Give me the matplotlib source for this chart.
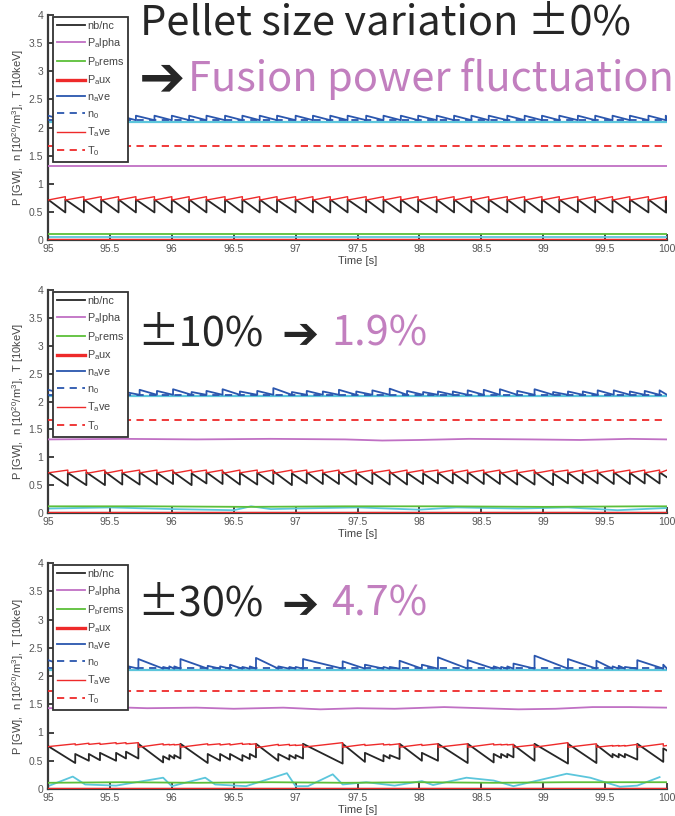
import matplotlib.pyplot as plt
import numpy as np

plt.rcParams['font.family'] = ['Liberation Sans', 'DejaVu Sans']
plt.rcParams['mathtext.default'] = 'regular'

# ---- case 1: pellet size variation +-0 % ----
t1 = [95.00, 95.14, 95.29, 95.43, 95.57, 95.71, 95.86, 96.00, 96.14, 96.28,
      96.43, 96.57, 96.71, 96.85, 97.00, 97.14, 97.28, 97.42, 97.57, 97.71,
      97.85, 97.99, 98.14, 98.28, 98.42, 98.56, 98.71, 98.85, 98.99, 99.13,
      99.28, 99.42, 99.56, 99.70, 99.85, 99.99]
nb1_hi, nb1_lo = 0.72, 0.49
te1_lo, te1_hi = 0.71, 0.77
ne1_hi, ne1_lo = 2.21, 2.13
palpha1 = ([95.0, 100.0], [1.31, 1.31])
pbrems1 = ([95.0, 100.0], [0.10, 0.10])
cyan_lo1 = ([95.0, 100.0], [0.05, 0.05])
n0_1, t0_1 = 2.13, 1.67

# ---- case 2: +-10 % ----
t2 = [95.00, 95.16, 95.31, 95.46, 95.60, 95.74, 95.88, 96.01, 96.16, 96.28,
      96.41, 96.55, 96.69, 96.82, 96.97, 97.09, 97.22, 97.35, 97.49, 97.62,
      97.76, 97.90, 98.03, 98.15, 98.27, 98.39, 98.52, 98.65, 98.79, 98.93,
      99.08, 99.20, 99.32, 99.44, 99.57, 99.70, 99.82, 99.94]
nb2_hi = [0.73, 0.72, 0.73, 0.74, 0.72, 0.73, 0.72, 0.74, 0.71, 0.73,
          0.74, 0.72, 0.72, 0.75, 0.71, 0.73, 0.72, 0.74, 0.72, 0.73,
          0.74, 0.72, 0.71, 0.72, 0.72, 0.73, 0.73, 0.74, 0.72, 0.74,
          0.71, 0.72, 0.72, 0.73, 0.73, 0.72, 0.72, 0.73]
nb2_lo = [0.49, 0.50, 0.50, 0.51, 0.51, 0.51, 0.52, 0.50, 0.53, 0.52,
          0.51, 0.51, 0.52, 0.50, 0.53, 0.52, 0.52, 0.51, 0.52, 0.51,
          0.51, 0.52, 0.53, 0.53, 0.53, 0.52, 0.52, 0.51, 0.51, 0.50,
          0.53, 0.53, 0.53, 0.52, 0.52, 0.53, 0.53, 0.64]
te2_lo = [0.72, 0.72, 0.71, 0.71, 0.72, 0.72, 0.72, 0.71, 0.73, 0.72,
          0.71, 0.72, 0.72, 0.71, 0.73, 0.72, 0.72, 0.71, 0.72, 0.72,
          0.71, 0.72, 0.73, 0.72, 0.72, 0.72, 0.72, 0.71, 0.72, 0.71,
          0.73, 0.72, 0.72, 0.72, 0.72, 0.72, 0.72, 0.72]
te2_hi = 0.77
ne2_hi = [2.21, 2.18, 2.19, 2.20, 2.18, 2.21, 2.19, 2.22, 2.17, 2.19,
          2.22, 2.18, 2.19, 2.24, 2.17, 2.19, 2.18, 2.21, 2.18, 2.20,
          2.23, 2.19, 2.17, 2.18, 2.18, 2.20, 2.21, 2.22, 2.19, 2.22,
          2.17, 2.18, 2.18, 2.20, 2.20, 2.18, 2.19, 2.20]
ne2_lo = 2.12
palpha2 = ([95.0, 95.6, 96.2, 96.8, 97.4, 97.7, 98.0, 98.4, 98.9, 99.3, 99.7, 100.0],
           [1.32, 1.33, 1.32, 1.33, 1.32, 1.30, 1.31, 1.33, 1.32, 1.31, 1.33, 1.32])
pbrems2 = ([95.0, 95.8, 96.6, 97.4, 98.2, 99.0, 99.8, 100.0],
           [0.12, 0.12, 0.11, 0.12, 0.12, 0.11, 0.12, 0.12])
cyan_lo2 = ([95.0, 95.5, 96.0, 96.5, 96.64, 96.8, 97.0, 97.5, 98.0, 98.3, 98.8, 99.2, 99.6, 100.0],
            [0.08, 0.10, 0.07, 0.05, 0.12, 0.07, 0.08, 0.10, 0.06, 0.10, 0.08, 0.10, 0.05, 0.09])
n0_2, t0_2 = 2.12, 1.67

# ---- case 3: +-30 % ----
t3 = [95.00, 95.22, 95.33, 95.42, 95.55, 95.63, 95.73, 95.93, 95.98, 96.02,
      96.07, 96.29, 96.39, 96.47, 96.57, 96.63, 96.68, 96.86, 96.95, 97.00,
      97.06, 97.38, 97.56, 97.71, 97.76, 97.84, 98.02, 98.15, 98.39, 98.60,
      98.66, 98.71, 98.76, 98.93, 99.20, 99.43, 99.56, 99.61, 99.66, 99.76,
      99.97]
nb3_hi = [0.76, 0.62, 0.62, 0.64, 0.64, 0.66, 0.80, 0.58, 0.60, 0.60,
          0.80, 0.62, 0.62, 0.62, 0.60, 0.62, 0.80, 0.62, 0.60, 0.60,
          0.80, 0.80, 0.64, 0.60, 0.60, 0.80, 0.64, 0.80, 0.80, 0.62,
          0.62, 0.62, 0.78, 0.80, 0.80, 0.78, 0.62, 0.62, 0.62, 0.80,
          0.72]
nb3_lo = [0.46, 0.50, 0.51, 0.50, 0.54, 0.54, 0.47, 0.52, 0.54, 0.54,
          0.46, 0.50, 0.52, 0.50, 0.53, 0.56, 0.50, 0.52, 0.54, 0.54,
          0.45, 0.48, 0.49, 0.54, 0.53, 0.50, 0.50, 0.46, 0.47, 0.55,
          0.56, 0.56, 0.50, 0.45, 0.46, 0.56, 0.56, 0.56, 0.52, 0.48,
          0.68]
te3_lo = [0.75, 0.78, 0.79, 0.79, 0.80, 0.80, 0.74, 0.78, 0.78, 0.78,
          0.74, 0.78, 0.78, 0.78, 0.79, 0.79, 0.73, 0.77, 0.77, 0.77,
          0.74, 0.74, 0.77, 0.78, 0.78, 0.74, 0.77, 0.74, 0.74, 0.78,
          0.78, 0.78, 0.74, 0.74, 0.74, 0.74, 0.76, 0.76, 0.76, 0.74,
          0.76]
te3_hi = [0.80, 0.81, 0.81, 0.82, 0.82, 0.82, 0.80, 0.79, 0.79, 0.79,
          0.80, 0.80, 0.80, 0.81, 0.80, 0.80, 0.79, 0.79, 0.78, 0.78,
          0.82, 0.79, 0.80, 0.79, 0.80, 0.79, 0.80, 0.80, 0.80, 0.79,
          0.79, 0.79, 0.78, 0.82, 0.80, 0.77, 0.77, 0.77, 0.79, 0.80,
          0.77]
ne3_hi = [2.28, 2.17, 2.16, 2.18, 2.17, 2.18, 2.30, 2.16, 2.17, 2.17,
          2.30, 2.18, 2.17, 2.20, 2.16, 2.17, 2.32, 2.17, 2.16, 2.16,
          2.30, 2.26, 2.20, 2.16, 2.16, 2.27, 2.20, 2.33, 2.28, 2.17,
          2.16, 2.17, 2.22, 2.36, 2.30, 2.27, 2.17, 2.18, 2.16, 2.28,
          2.20]
ne3_lo = 2.13
palpha3 = ([95.0, 95.5, 95.8, 96.2, 96.5, 96.9, 97.2, 97.5, 97.8, 98.2, 98.5, 98.8, 99.1, 99.4, 99.7, 100.0],
           [1.43, 1.45, 1.43, 1.44, 1.42, 1.44, 1.41, 1.43, 1.42, 1.45, 1.43, 1.41, 1.42, 1.45, 1.45, 1.44])
pbrems3 = ([95.0, 95.6, 96.2, 96.8, 97.4, 98.0, 98.6, 99.2, 99.8, 100.0],
           [0.11, 0.12, 0.11, 0.12, 0.11, 0.12, 0.11, 0.12, 0.12, 0.12])
cyan_lo3 = ([95.0, 95.2, 95.3, 95.55, 95.93, 96.0, 96.27, 96.35, 96.6, 96.93, 97.0, 97.1,
             97.3, 97.38, 97.57, 97.8, 98.02, 98.11, 98.38, 98.6, 98.76, 99.19, 99.38,
             99.62, 99.76, 99.94],
            [0.05, 0.22, 0.08, 0.06, 0.20, 0.05, 0.20, 0.08, 0.05, 0.28, 0.05, 0.05,
             0.26, 0.08, 0.12, 0.06, 0.14, 0.07, 0.20, 0.15, 0.05, 0.27, 0.20,
             0.04, 0.06, 0.21])
n0_3, t0_3 = 2.14, 1.73

cyan_hi = 2.10

cases = [
    dict(t=t1, nb_hi=nb1_hi, nb_lo=nb1_lo, te_lo=te1_lo, te_hi=te1_hi, ne_hi=ne1_hi, ne_lo=ne1_lo,
         palpha=palpha1, pbrems=pbrems1, cyan=cyan_lo1, n0=n0_1, t0=t0_1),
    dict(t=t2, nb_hi=nb2_hi, nb_lo=nb2_lo, te_lo=te2_lo, te_hi=te2_hi, ne_hi=ne2_hi, ne_lo=ne2_lo,
         palpha=palpha2, pbrems=pbrems2, cyan=cyan_lo2, n0=n0_2, t0=t0_2),
    dict(t=t3, nb_hi=nb3_hi, nb_lo=nb3_lo, te_lo=te3_lo, te_hi=te3_hi, ne_hi=ne3_hi, ne_lo=ne3_lo,
         palpha=palpha3, pbrems=pbrems3, cyan=cyan_lo3, n0=n0_3, t0=t0_3),
]


def sawtooth(t_pel, after, before, t_end=100.0):
    # value right after each pellet, then straight to the value just before the next one
    n = len(t_pel)
    after = np.broadcast_to(after, n)
    before = np.broadcast_to(before, n)
    edges = list(t_pel) + [t_end]
    xs, ys = [], []
    for i in range(n):
        xs += [edges[i], edges[i + 1]]
        ys += [after[i], before[i]]
    return xs, ys


BLACK = '#262626'
PURPLE = '#c070c4'
GREEN = '#5cbf38'
RED = '#ee2a2a'
BLUE = '#2a56ae'
CYAN = '#5cc6dc'
PINK = '#c27fbf'

fig = plt.figure(figsize=(6.75, 8.16), dpi=100)
W, H = 675.0, 816.0
panels = [(15, 240), (290, 513), (563, 789)]  # top / bottom of each axes in pixels

for k, (c, (ytop, ybot)) in enumerate(zip(cases, panels)):
    ax = fig.add_axes([48 / W, 1 - ybot / H, 619 / W, (ybot - ytop) / H])
    xlim = (95, 100)

    ax.plot(xlim, [cyan_hi, cyan_hi], color=CYAN, lw=1.6, zorder=2)
    ax.plot(*c['cyan'], color=CYAN, lw=1.3, zorder=2)

    x, y = sawtooth(c['t'], c['nb_hi'], c['nb_lo'])
    ax.plot(x, y, color=BLACK, lw=1.3, label='nb/nc', zorder=4)
    ax.plot(*c['palpha'], color=PURPLE, lw=1.3, label='P$_a$lpha', zorder=3)
    ax.plot(*c['pbrems'], color=GREEN, lw=1.3, label='P$_b$rems', zorder=3)
    ax.plot(xlim, [0, 0], color=RED, lw=2.4, label='P$_a$ux', zorder=3)
    x, y = sawtooth(c['t'], c['ne_hi'], c['ne_lo'])
    ax.plot(x, y, color=BLUE, lw=1.3, label='n$_a$ve', zorder=4)
    ax.plot(xlim, [c['n0'], c['n0']], color=BLUE, lw=1.3, ls=(0, (4, 3)), label='n$_0$', zorder=3)
    x, y = sawtooth(c['t'], c['te_lo'], c['te_hi'])
    ax.plot(x, y, color=RED, lw=1.0, label='T$_a$ve', zorder=4)
    ax.plot(xlim, [c['t0'], c['t0']], color=RED, lw=1.3, ls=(0, (4, 3)), label='T$_0$', zorder=3)

    ax.set_xlim(*xlim)
    ax.set_ylim(0, 4)
    ax.set_xticks(np.arange(95, 100.01, 0.5))
    ax.set_xticklabels(['95', '95.5', '96', '96.5', '97', '97.5', '98', '98.5', '99', '99.5', '100'])
    ax.set_yticks(np.arange(0, 4.01, 0.5))
    ax.set_yticklabels(['0', '0.5', '1', '1.5', '2', '2.5', '3', '3.5', '4'])
    ax.tick_params(direction='in', length=4, width=1.3, colors='#333333',
                   labelsize=7.5, labelcolor='#555555')
    ax.tick_params(axis='x', pad=3)
    ax.tick_params(axis='y', pad=3.5)
    for s in ('top', 'right'):
        ax.spines[s].set_visible(False)
    for s in ('left', 'bottom'):
        ax.spines[s].set_color('#3a3a3a')
        ax.spines[s].set_linewidth(1.6)
    ax.set_xlabel('Time [s]', fontsize=8, color='#444444', labelpad=1)
    ax.set_ylabel('P [GW],  n [10$^{20}$/m$^3$],  T [10keV]', fontsize=8, color='#444444', labelpad=2)

    leg = ax.legend(loc='upper left', bbox_to_anchor=(0.008, 0.99), borderaxespad=0,
                    fontsize=7.8, handlelength=2.6, handletextpad=0.2, labelspacing=0.45,
                    fancybox=False, framealpha=1, edgecolor='#333333', borderpad=0.35)
    leg.get_frame().set_linewidth(1.3)
    for txt in leg.get_texts():
        txt.set_color('#444444')
    leg.set_zorder(10)

# headline text
head = ['Noto Sans CJK JP', 'DejaVu Sans']
fig.text(140 / W, 1 - 23 / H, 'Pellet size variation \u00b10%', fontsize=30,
         color=BLACK, va='center', ha='left', family=head)
fig.text(139 / W, 1 - 80 / H, '\u2794', fontsize=40, color=BLACK, va='center',
         ha='left', family=['DejaVu Sans'])
fig.text(188 / W, 1 - 79 / H, 'Fusion power fluctuation', fontsize=30,
         color=PINK, va='center', ha='left', family=head)

for yc, lab, val in [(334, '\u00b110%', '1.9%'), (604, '\u00b130%', '4.7%')]:
    fig.text(137 / W, 1 - yc / H, lab, fontsize=30, color=BLACK, va='center',
             ha='left', family=head)
    fig.text(281 / W, 1 - (yc + 1) / H, '\u2794', fontsize=32, color=BLACK, va='center',
             ha='left', family=['DejaVu Sans'])
    fig.text(331 / W, 1 - yc / H, val, fontsize=30, color=PINK, va='center',
             ha='left', family=head)

fig.savefig('out.png', dpi=100)
